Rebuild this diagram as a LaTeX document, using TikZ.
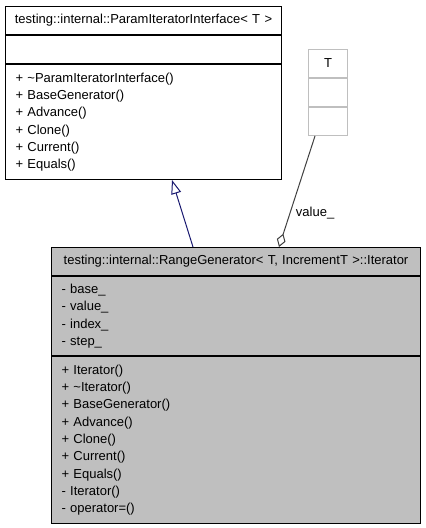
\documentclass[tikz,border=0pt]{standalone}
\usepackage{fontspec}
\setmainfont{Liberation Sans}
\usepackage{xcolor}
\usetikzlibrary{calc,arrows.meta}
\definecolor{grey75}{HTML}{BFBFBF}
\definecolor{navy}{HTML}{191970}
\definecolor{edgegrey}{HTML}{404040}
\def\pxu{0.75pt}
\tikzset{
  cls/.style={draw=black, line width=0.75pt, fill=white, anchor=north west, inner xsep=10*\pxu, inner ysep=0pt, font=\fontsize{9.75}{13}\selectfont},
  clsgrey/.style={cls, fill=grey75},
  tmpl/.style={cls, draw=grey75},
  head/.style={align=center, inner xsep=2*\pxu},
  list/.style={align=left},
  inherit/.style={draw=navy, line width=0.75pt, -{Triangle[open, length=10.5pt, width=7.5pt]}},
  agg/.style={draw=edgegrey, line width=0.75pt, {Diamond[open, length=10.5pt, width=6.75pt]}-},
  lab/.style={font=\fontsize{9.75}{13}\selectfont, inner sep=1pt},
}

\begin{document}
\begin{tikzpicture}[x=\pxu, y=-\pxu]
  \useasboundingbox (0,0) rectangle (425,528);
  % interface class
  \node[cls, head, minimum height=28*\pxu, text width=272*\pxu] (ihead) at (5,6)
    {testing::internal::ParamIteratorInterface< T >};
  \node[cls, minimum width=276*\pxu, minimum height=28*\pxu] (iattr) at (ihead.south west) {};
  \node[cls, list, minimum height=115*\pxu, text width=256*\pxu] (imeth) at (iattr.south west)
    {+ \textasciitilde ParamIteratorInterface()\\+ BaseGenerator()\\+ Advance()\\+ Clone()\\+ Current()\\+ Equals()};
  % template parameter
  \node[tmpl, head, minimum height=28*\pxu, text width=35*\pxu] (thead) at (308,49) {T};
  \node[tmpl, minimum width=39*\pxu, minimum height=28*\pxu] (tattr) at (thead.south west) {};
  \node[tmpl, minimum width=39*\pxu, minimum height=28*\pxu] (tmeth) at (tattr.south west) {};
  % iterator class
  \node[clsgrey, head, minimum height=28*\pxu, text width=365*\pxu] (bhead) at (51,247)
    {testing::internal::RangeGenerator< T, IncrementT >::Iterator};
  \node[clsgrey, list, minimum height=79*\pxu, text width=349*\pxu] (battr) at (bhead.south west)
    {- base\_\\- value\_\\- index\_\\- step\_};
  \node[clsgrey, list, minimum height=167*\pxu, text width=349*\pxu] (bmeth) at (battr.south west)
    {+ Iterator()\\+ \textasciitilde Iterator()\\+ BaseGenerator()\\+ Advance()\\+ Clone()\\+ Current()\\+ Equals()\\- Iterator()\\- operator=()};
  % relations
  \draw[inherit] ($(bhead.north west)+(142,0)$) -- ($(imeth.south west)+(167,0)$);
  \draw[agg] ($(bhead.north west)+(228,0)$) -- node[pos=0.31, right=4*\pxu, lab] {value\_} ($(tmeth.south west)+(7,0)$);
\end{tikzpicture}
\end{document}
